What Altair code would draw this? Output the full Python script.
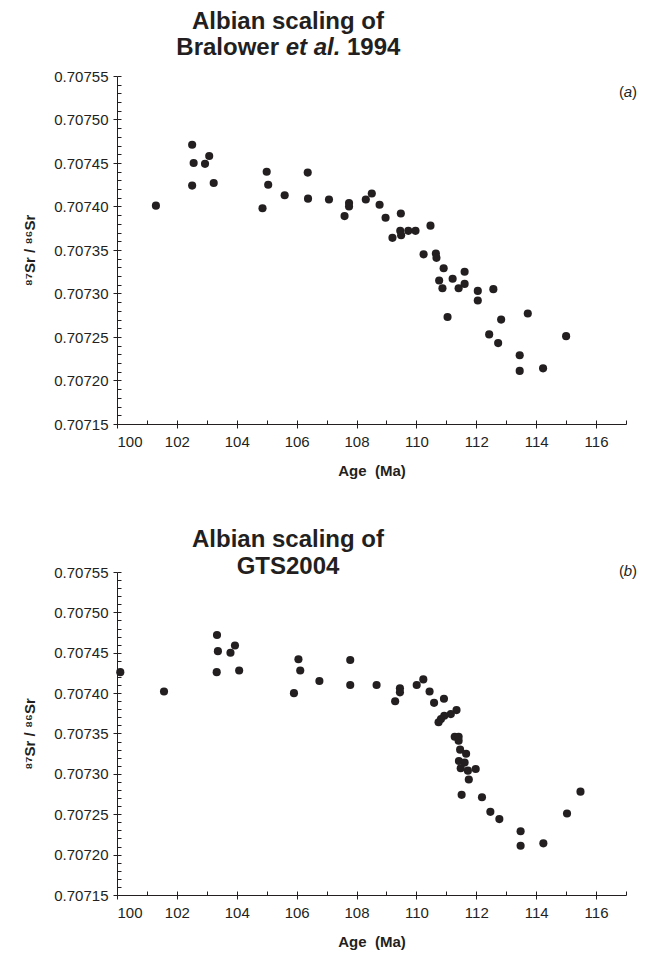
import altair as alt
import pandas as pd

FONT = "Liberation Sans"
INK = "#231f20"

# Panel (a): Albian scaling of Bralower et al. 1994
age_a = [101.30, 102.51, 102.56, 102.51, 102.94, 103.08, 103.23, 104.86, 105.00, 105.05,
         105.60, 106.37, 106.38, 107.08, 107.60, 107.75, 107.75, 108.31, 108.51, 108.77,
         108.97, 109.48, 109.46, 109.49, 109.73, 109.97, 109.20, 110.47, 110.24, 110.65,
         110.67, 110.91, 110.76, 110.87, 111.21, 111.61, 111.61, 111.41, 112.05, 112.05,
         112.57, 111.04, 112.83, 113.72, 112.43, 112.73, 115.00, 113.45, 113.45, 114.23]
sr_a = [0.707401, 0.707471, 0.707450, 0.707424, 0.707449, 0.707458, 0.707427, 0.707398, 0.707440, 0.707425,
        0.707413, 0.707439, 0.707409, 0.707408, 0.707389, 0.707404, 0.707400, 0.707408, 0.707415, 0.707402,
        0.707387, 0.707392, 0.707372, 0.707367, 0.707372, 0.707372, 0.707364, 0.707378, 0.707345, 0.707346,
        0.707341, 0.707329, 0.707315, 0.707306, 0.707317, 0.707325, 0.707311, 0.707306, 0.707303, 0.707292,
        0.707305, 0.707273, 0.707270, 0.707277, 0.707253, 0.707243, 0.707251, 0.707229, 0.707211, 0.707214]

# Panel (b): Albian scaling of GTS2004
age_b = [100.11, 101.57, 103.34, 103.37, 103.33, 103.79, 103.94, 104.08, 105.91, 106.06,
         106.12, 106.76, 107.79, 107.79, 108.67, 109.45, 109.45, 109.29, 110.01, 110.23,
         110.44, 110.59, 110.92, 111.34, 111.15, 110.93, 110.82, 110.74, 111.28, 111.41,
         111.41, 111.46, 111.66, 111.42, 111.61, 111.48, 111.72, 111.98, 111.75, 111.51,
         112.19, 112.47, 112.77, 113.48, 115.48, 115.03, 113.48, 114.24]
sr_b = [0.707426, 0.707402, 0.707472, 0.707452, 0.707426, 0.707450, 0.707459, 0.707428, 0.707400, 0.707442,
        0.707428, 0.707415, 0.707441, 0.707410, 0.707410, 0.707406, 0.707401, 0.707390, 0.707410, 0.707417,
        0.707402, 0.707388, 0.707393, 0.707379, 0.707374, 0.707372, 0.707368, 0.707364, 0.707346, 0.707346,
        0.707341, 0.707330, 0.707325, 0.707316, 0.707314, 0.707307, 0.707304, 0.707306, 0.707293, 0.707274,
        0.707271, 0.707253, 0.707244, 0.707229, 0.707278, 0.707251, 0.707211, 0.707214]

# Axis ticks
x_major = [100, 102, 104, 106, 108, 110, 112, 114, 116]
x_minor = [100, 101, 102, 103, 104, 105, 106, 107, 108, 109, 110, 111, 112, 113, 114, 115, 116, 117]
y_major = [0.70715, 0.70720, 0.70725, 0.70730, 0.70735, 0.70740, 0.70745, 0.70750, 0.70755]
y_minor = [0.70715, 0.70716, 0.70717, 0.70718, 0.70719, 0.70720, 0.70721, 0.70722, 0.70723, 0.70724,
           0.70725, 0.70726, 0.70727, 0.70728, 0.70729, 0.70730, 0.70731, 0.70732, 0.70733, 0.70734,
           0.70735, 0.70736, 0.70737, 0.70738, 0.70739, 0.70740, 0.70741, 0.70742, 0.70743, 0.70744,
           0.70745, 0.70746, 0.70747, 0.70748, 0.70749, 0.70750, 0.70751, 0.70752, 0.70753, 0.70754,
           0.70755]

W = 509
Y_TITLE = "\u2078\u2077Sr / \u2078\u2076Sr"
X_TITLE = "Age\u00a0\u00a0(Ma)"


def txt(s, x, y, size=24, weight="bold", style="normal", align="center"):
    return alt.Chart(alt.Data(values=[{}])).mark_text(
        text=s, fontSize=size, fontWeight=weight, fontStyle=style, align=align,
        baseline="middle", font=FONT, color=INK
    ).encode(x=alt.value(x), y=alt.value(y))


def panel(age, sr, h):
    df = pd.DataFrame({"age": age, "sr": sr})
    xs = alt.Scale(domain=[100, 117], nice=False, zero=False)
    ys = alt.Scale(domain=[0.70715, 0.70755], nice=False, zero=False)
    pts = alt.Chart(df).mark_circle(size=66, color=INK, opacity=1).encode(
        x=alt.X("age:Q", scale=xs, axis=alt.Axis(
            values=x_major, tickSize=4, labelPadding=6, title=X_TITLE,
            titlePadding=14, grid=False)),
        y=alt.Y("sr:Q", scale=ys, axis=alt.Axis(
            values=y_major, format=".5f", tickSize=4, labelPadding=5,
            title=Y_TITLE, titlePadding=16, grid=False)),
    )
    inner = alt.Chart(df).mark_circle(size=1, opacity=0).encode(
        x=alt.X("age:Q", scale=xs, axis=alt.Axis(
            orient="top", offset=-h, values=x_minor, labels=False, domain=False,
            tickSize=4, title=None, grid=False)),
        y=alt.Y("sr:Q", scale=ys, axis=alt.Axis(
            orient="right", offset=-W, values=y_minor, labels=False, domain=False,
            tickSize=4, title=None, grid=False)),
    )
    return pts, inner


ha = 348
hb = 323
pa, ia = panel(age_a, sr_a, ha)
pb, ib = panel(age_b, sr_b, hb)

top = alt.layer(
    pa, ia,
    txt("Albian scaling of", 171, -54),
    txt("Bralower", 162, -28, align="right"),
    txt("et al.", 196, -28, style="italic"),
    txt("1994", 230, -28, align="left"),
    txt("(", 507, 16, size=15, weight="normal", align="right"),
    txt("a", 511, 16, size=15, weight="normal", style="italic"),
    txt(")", 515, 16, size=15, weight="normal", align="left"),
).resolve_axis(x="independent", y="independent").properties(width=W, height=ha)

bottom = alt.layer(
    pb, ib,
    txt("Albian scaling of", 171, -32),
    txt("GTS2004", 171, -5),
    txt("(", 507, -1, size=15, weight="normal", align="right"),
    txt("b", 511, -1, size=15, weight="normal", style="italic"),
    txt(")", 515, -1, size=15, weight="normal", align="left"),
).resolve_axis(x="independent", y="independent").properties(width=W, height=hb)

chart = alt.vconcat(top, bottom, spacing=50).properties(
    padding={"left": 14, "top": 2, "right": 5, "bottom": 5}
).configure_view(stroke=None).configure_axis(
    domainColor=INK, tickColor=INK, labelColor=INK, titleColor=INK,
    labelFont=FONT, labelFontSize=15, titleFont=FONT, titleFontSize=15,
    titleFontWeight="bold", domainWidth=1, tickWidth=1
)

chart.save("out.html", embed_options={"renderer": "svg", "actions": False})
